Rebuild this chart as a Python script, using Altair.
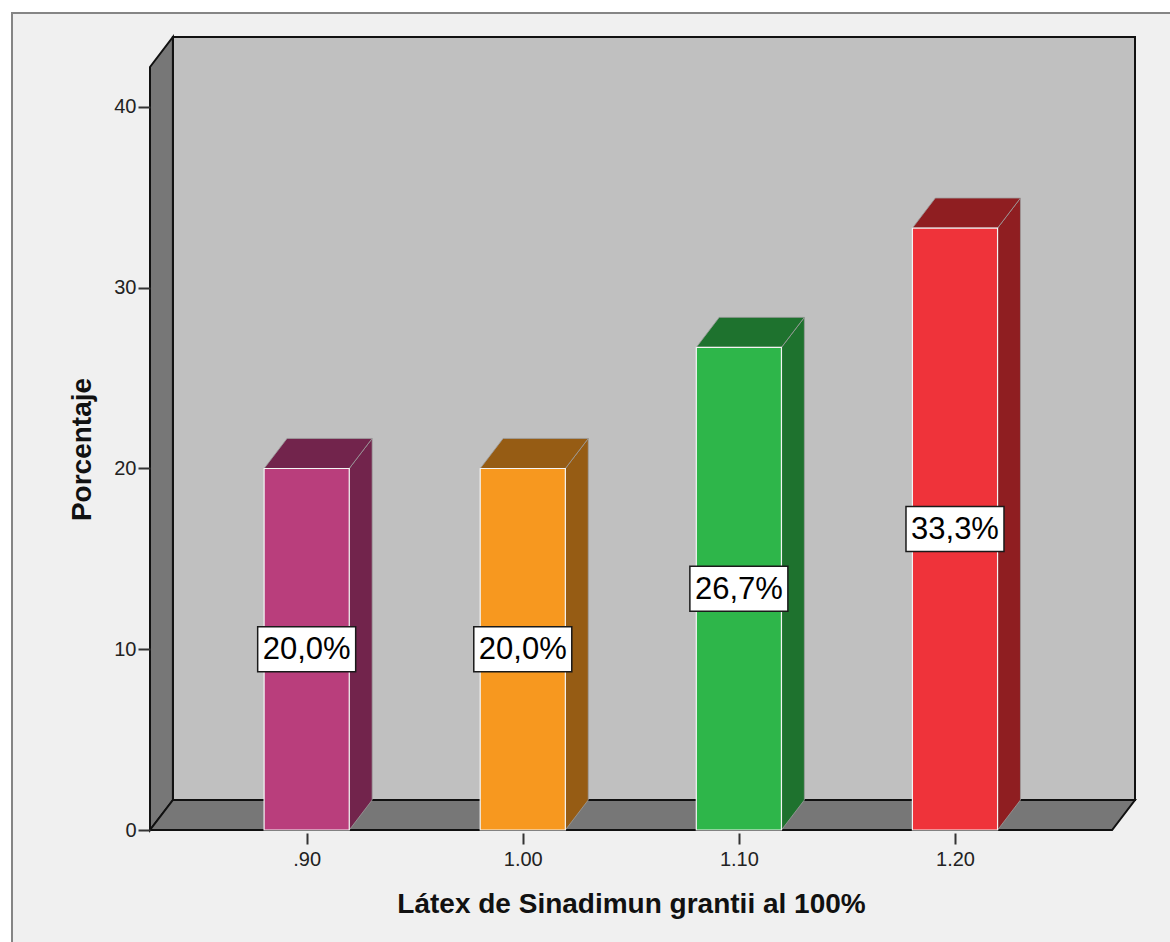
import altair as alt
import pandas as pd

# Percentage of cases for each latex dose
DOSES = [0.90, 1.00, 1.10, 1.20]
PERCENTS = [20.0, 20.0, 26.7, 33.3]

FACE_COLORS = ["#B93E7C", "#F7981F", "#2EB64A", "#EF333A"]
SHADE_COLORS = ["#72244C", "#965C14", "#1E722E", "#8F1E21"]

Y_TICKS = [0, 10, 20, 30, 40]

FONT = "Liberation Sans"

# Geometry of the 3D box, in data units
X_FRONT = (0.8275, 1.2727)   # left and right edge of the front of the floor
Y_FRONT_TOP = 42.21          # top of the front frame
DEPTH_X = 0.0106             # horizontal depth offset
DEPTH_Y = 1.66               # vertical depth offset
BAR_HALF = 0.0197            # half width of a bar front

X_DOMAIN = [X_FRONT[0], X_FRONT[1] + DEPTH_X]
Y_DOMAIN = [0, Y_FRONT_TOP + DEPTH_Y]

x_scale = alt.Scale(domain=X_DOMAIN, nice=False, zero=False)
y_scale = alt.Scale(domain=Y_DOMAIN, nice=False, zero=False)

x_axis = alt.Axis(
    values=DOSES,
    labelExpr="datum.value < 1 ? substring(format(datum.value, '.2f'), 1) : format(datum.value, '.2f')",
    title="Látex de Sinadimun grantii al 100%", titleFont=FONT, titleFontSize=28,
    titleFontWeight="bold", titleColor="#111111", titleX=481, titleY=79,
    titleBaseline="alphabetic",
    labelFont=FONT, labelFontSize=20, labelColor="#222222", labelPadding=5,
    tickSize=11, tickWidth=2, tickColor="#333333", offset=3,
    domain=False, grid=False, zindex=1)

y_axis = alt.Axis(
    values=Y_TICKS, title="Porcentaje", titleFont=FONT, titleFontSize=28,
    titleFontWeight="bold", titleColor="#111111", titleX=-60, titleY=412,
    titleBaseline="alphabetic",
    labelFont=FONT, labelFontSize=20, labelColor="#222222", labelPadding=2,
    tickSize=12, tickWidth=2, tickColor="#333333",
    domain=False, grid=False, zindex=1)


def X(field):
    return alt.X(field, type="quantitative", scale=x_scale, axis=x_axis, stack=False)


def Y(field):
    return alt.Y(field, type="quantitative", scale=y_scale, axis=y_axis, stack=False)


bars = pd.DataFrame({"dose": DOSES, "pct": PERCENTS,
                     "face": FACE_COLORS, "shade": SHADE_COLORS})
bars["x0"] = bars["dose"] - BAR_HALF
bars["x1"] = bars["dose"] + BAR_HALF
bars["mid"] = bars["pct"] / 2
bars["base"] = 0.0

# right-hand and top faces: two parallel edges per bar
side_rows = []
top_rows = []
for _, b in bars.iterrows():
    side_rows.append({"dose": b.dose, "shade": b.shade, "x": b.x1, "lo": 0.0, "hi": b.pct})
    side_rows.append({"dose": b.dose, "shade": b.shade, "x": b.x1 + DEPTH_X,
                      "lo": DEPTH_Y, "hi": b.pct + DEPTH_Y})
    top_rows.append({"dose": b.dose, "shade": b.shade, "y": b.pct, "lo": b.x0, "hi": b.x1})
    top_rows.append({"dose": b.dose, "shade": b.shade, "y": b.pct + DEPTH_Y,
                     "lo": b.x0 + DEPTH_X, "hi": b.x1 + DEPTH_X})
side_df = pd.DataFrame(side_rows)
top_df = pd.DataFrame(top_rows)

back_df = pd.DataFrame({"x0": [X_FRONT[0] + DEPTH_X], "x1": [X_DOMAIN[1]],
                        "y0": [DEPTH_Y], "y1": [Y_DOMAIN[1]]})
wall_df = pd.DataFrame({"x": [X_FRONT[0], X_FRONT[0] + DEPTH_X],
                        "lo": [0, DEPTH_Y], "hi": [Y_FRONT_TOP, Y_DOMAIN[1]]})
floor_df = pd.DataFrame({"y": [0, DEPTH_Y],
                         "lo": [X_FRONT[0], X_FRONT[0] + DEPTH_X],
                         "hi": [X_FRONT[1], X_DOMAIN[1]]})

# panel background with its border
panel = alt.Chart(pd.DataFrame({"k": [0]})).mark_rect(
    fill="#F0F0F0", stroke="#858585", strokeWidth=2
).encode(x=alt.value(-138), x2=alt.value(1100), y=alt.value(-24), y2=alt.value(1000))

back = alt.Chart(back_df).mark_rect(fill="#C0C0C0", stroke="#111111", strokeWidth=2).encode(
    x=X("x0"), x2="x1", y=Y("y0"), y2="y1")

wall = alt.Chart(wall_df).mark_area(
    orient="vertical", fill="#777777", stroke="#111111", strokeWidth=2
).encode(x=X("x"), y=Y("lo"), y2="hi")

floor = alt.Chart(floor_df).mark_area(
    orient="horizontal", fill="#777777", stroke="#111111", strokeWidth=2
).encode(y=Y("y"), x=X("lo"), x2="hi")

sides = alt.Chart(side_df).mark_area(
    orient="vertical", stroke="#9c9c9c", strokeWidth=1, strokeOpacity=0.8
).encode(x=X("x"), y=Y("lo"), y2="hi",
         color=alt.Color("shade:N", scale=None), detail="dose:N")

tops = alt.Chart(top_df).mark_area(
    orient="horizontal", stroke="#9c9c9c", strokeWidth=1, strokeOpacity=0.8
).encode(y=Y("y"), x=X("lo"), x2="hi",
         color=alt.Color("shade:N", scale=None), detail="dose:N")

fronts = alt.Chart(bars).mark_rect(stroke="#f4f4f4", strokeWidth=1.2).encode(
    x=X("x0"), x2="x1", y=Y("base"), y2="pct",
    color=alt.Color("face:N", scale=None))

boxes = alt.Chart(bars).mark_point(
    shape="M-1,-0.46L1,-0.46L1,0.46L-1,0.46Z", size=98 ** 2, filled=True,
    fill="white", stroke="#1a1a1a", strokeWidth=1.5, opacity=1
).encode(x=X("dose"), y=Y("mid"))

labels = alt.Chart(bars).transform_calculate(
    label="replace(format(datum.pct, '.1f'), '.', ',') + '%'"
).mark_text(font=FONT, fontSize=31, color="black", baseline="middle", align="center", dy=1).encode(
    x=X("dose"), y=Y("mid"), text="label:N")

chart = alt.layer(panel, back, wall, floor, sides, tops, fronts, boxes, labels).properties(
    width=985, height=793,
    autosize=alt.AutoSizeParams(type="none"),
    padding={"left": 150, "top": 37, "right": 35, "bottom": 112},
    background="white",
).configure_view(strokeWidth=0)

chart.save("out.html", embed_options={"renderer": "svg", "actions": False})
